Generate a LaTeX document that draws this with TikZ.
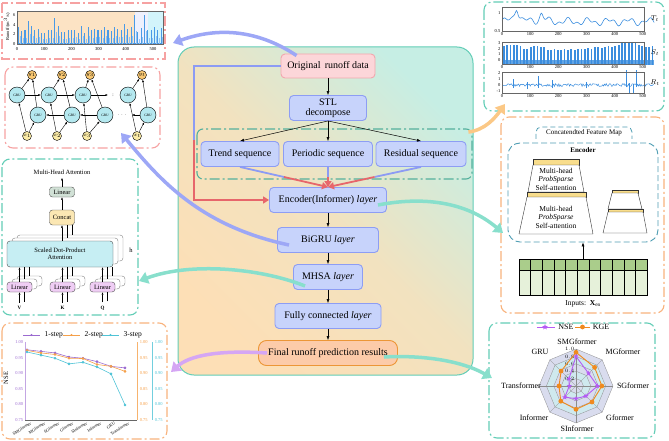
\documentclass[tikz,border=0pt]{standalone}
\usepackage{fontspec}
\setmainfont{Liberation Serif}
\usetikzlibrary{positioning,calc,arrows.meta,shapes.geometric}

\definecolor{layerfill}{HTML}{C7D3FB}
\definecolor{layeredge}{HTML}{8D9DF4}
\definecolor{datafill}{HTML}{FCD6D9}
\definecolor{dataedge}{HTML}{F3A6AE}
\definecolor{resultfill}{HTML}{FCCBA9}
\definecolor{resultedge}{HTML}{EC9637}
\definecolor{panelteal}{HTML}{C6EEE4}
\definecolor{panelorange}{HTML}{FDDFB6}
\definecolor{tealedge}{HTML}{62CDB6}
\definecolor{tealflow}{HTML}{88DFCC}
\definecolor{lavflow}{HTML}{9DA7F6}
\definecolor{lilacflow}{HTML}{D5A6F4}
\definecolor{orangeflow}{HTML}{FBC886}
\definecolor{seqblue}{HTML}{8C9BF4}
\definecolor{seqred}{HTML}{E7666B}
\definecolor{pinkdash}{HTML}{F6A2A2}
\definecolor{orangedash}{HTML}{F8B27C}
\definecolor{plotblue}{HTML}{3B8DDE}
\definecolor{barblue}{HTML}{4A9AE6}
\definecolor{barorange}{HTML}{FCE3C4}
\definecolor{barlav}{HTML}{EEF0FD}
\definecolor{barcyan}{HTML}{D2F4FB}
\definecolor{grucyan}{HTML}{B4E8EF}
\definecolor{gruyellow}{HTML}{F9C872}
\definecolor{xyellow}{HTML}{FBEBA6}
\definecolor{linfill}{HTML}{EFCDF4}
\definecolor{sdpafill}{HTML}{C6EEF3}
\definecolor{concatfill}{HTML}{FBE7B3}
\definecolor{topfill}{HTML}{D1E1D6}
\definecolor{stepone}{HTML}{9B6BD0}
\definecolor{steptwo}{HTML}{F5A04A}
\definecolor{stepthree}{HTML}{4FC3D6}
\definecolor{encedge}{HTML}{4E9DB3}
\definecolor{probyellow}{HTML}{F8DD8C}
\definecolor{gridgreen}{HTML}{AACD8B}
\definecolor{gridlight}{HTML}{E6F1DA}
\definecolor{nsepurple}{HTML}{B45CF5}
\definecolor{kgeorange}{HTML}{F08A1E}
\definecolor{radarring}{HTML}{D9DCEE}
\definecolor{radarinner}{HTML}{CFE9EE}

\begin{document}
\begin{tikzpicture}[x=1pt,y=-1pt,>=Latex,node distance=40pt,on grid,
  layerbox/.style={draw=layeredge,fill=layerfill,line width=0.9pt,rounded corners=4pt,minimum height=25pt,inner sep=2pt,font=\fontsize{10}{11}\selectfont},
  databox/.style={layerbox,draw=dataedge,fill=datafill,minimum height=24pt},
  resultbox/.style={layerbox,draw=resultedge,fill=resultfill,rounded corners=8pt},
  thinarrow/.style={-{Latex[length=4pt,width=3pt]},line width=0.5pt},
  fusein/.style={seqblue,line width=1.8pt},
  fuseout/.style={seqred,line width=1.8pt,-{Triangle[length=6pt,width=7pt]}},
  flowarrow/.style={line width=3.5pt,-{Triangle[length=9pt,width=12pt]}},
  panelline/.style={line width=1.1pt,dash pattern=on 10pt off 3pt on 2pt off 3pt,rounded corners=8pt},
  ticklabel/.style={font=\fontsize{4.5}{5}\selectfont,inner sep=0.6pt},
  axisline/.style={draw=black!60,line width=0.4pt},
  grucell/.style={circle,draw,fill=grucyan,minimum size=16pt,inner sep=0pt,line width=0.4pt,font=\fontsize{3.5}{4}\selectfont},
  ycell/.style={circle,draw,fill=gruyellow,minimum size=9pt,inner sep=0pt,line width=0.4pt,font=\fontsize{3.5}{4}\selectfont},
  xcell/.style={circle,draw,fill=xyellow,minimum size=9pt,inner sep=0pt,line width=0.4pt,font=\fontsize{3.5}{4}\selectfont},
  tinyarrow/.style={-{Latex[length=2.5pt,width=2pt]},line width=0.4pt},
  attnbox/.style={draw=black!70,line width=0.4pt,rounded corners=3pt,inner sep=0pt,font=\fontsize{6.5}{7.5}\selectfont},
  trapbox/.style={draw=black!80,line width=0.4pt,fill=white},
  probbar/.style={draw=black!80,line width=0.4pt,fill=probyellow},
]
\useasboundingbox (0,0) rectangle (669,441);

% central framework
\shadedraw[draw=tealedge,line width=1pt,rounded corners=16pt,top color=panelteal,bottom color=panelorange,middle color=panelorange!80!panelteal,shading angle=-45] (178,47) rectangle (473,375);
\draw[tealedge!80!black!70!tealedge,panelline,rounded corners=6pt] (197,129) rectangle (472,179);

\node[databox,minimum width=94pt] (orig) at (328,66) {Original\, runoff data};
\node[layerbox,minimum width=77pt,align=center,below=42pt of orig] (stl) {STL\\[-1pt]decompose};
\node[layerbox,minimum width=89pt,below=46pt of stl] (per) {Periodic sequence};
\node[layerbox,minimum width=78pt,left=88pt of per] (trend) {Trend sequence};
\node[layerbox,minimum width=90pt,right=93pt of per] (resid) {Residual sequence};
\node[layerbox,minimum width=117pt,below=46pt of per] (enc) {Encoder(Informer) \textit{layer}};
\node[layerbox,minimum width=101pt,below=40pt of enc] (bigru) {BiGRU \textit{layer}};
\node[layerbox,minimum width=69pt,below=37pt of bigru] (mhsa) {MHSA \textit{layer}};
\node[layerbox,minimum width=106pt,below=39pt of mhsa] (fc) {Fully connected \textit{layer}};
\node[resultbox,minimum width=139pt,below=37pt of fc] (final) {Final runoff prediction results};

\draw[thinarrow] (orig) -- (stl);
\foreach \s in {trend,per,resid}
  \draw[thinarrow] (stl.south) -- (\s.north);
\foreach \s in {trend,per,resid} {
  \draw[fusein] (\s.south) -- ($(\s.south)!0.5!(enc.north)$);
  \draw[fuseout] ($(\s.south)!0.5!(enc.north)$) -- (enc.north);
}
\coordinate (bypass) at (194,140);
\draw[fusein] (orig.west) -| (bypass);
\draw[fuseout] (bypass) |- (enc.west);
\draw[thinarrow] (enc) -- (bigru);
\draw[thinarrow] (bigru) -- (mhsa);
\draw[thinarrow] (mhsa) -- (fc);
\draw[thinarrow] (fc) -- (final);

% runoff series
\draw[pinkdash,panelline,rounded corners=0pt] (2,3) rectangle (165,59);
\fill[barorange] (17,11) rectangle (135,44);
\fill[barlav] (135,11) rectangle (148,44);
\fill[barcyan] (148,11) rectangle (163,44);
\begin{scope}[shift={(17,44)},x=0.272pt,y=4.83pt]
  \fill[barblue] (0,0) rectangle (538,0.3);
  \foreach \h [count=\i from 0] in {3.5,2.7,2.8,4.8,3.8,2.9,3.1,2.3,2.3,2.9,2.8,5.3,3.8,2.4,2.4,2.8,2.8,3.0,2.2,3.8,2.3,3.6,2.8,3.2,3.0,2.8,3.5,2.8,2.6,3.5,3.2,3.0,4.1,3.2,3.5,6.0,2.5,3.4,6.1,2.9,2.8,3.6,2.8,3.4} {
    \fill[barblue] ({5+12.2*\i-2},0) rectangle ({5+12.2*\i+2},\h);
    \fill[barblue!60] ({11+12.2*\i-1.5},0) rectangle ({11+12.2*\i+1.5},{0.45*\h});
  }
  \foreach \v in {0,2,4,6}
    \node[ticklabel,anchor=east] at (-3,\v) {\v};
  \foreach \v in {0,100,...,500}
    \node[ticklabel,anchor=north] at (\v,-0.6) {\v};
\end{scope}
\draw[axisline] (17,11) rectangle (163,44);
\node[ticklabel,rotate=90] at (7,27) {Runoff/(m$^3$/s)};

% bidirectional GRU
\draw[pinkdash,panelline] (5,67) rectangle (160,148);
\foreach \n/\fx/\bx/\yx/\xx/\lab in {1/17/38/32/27/1,2/49/72/62/57/2,3/83/105/90/87/3,4/128/148/142/137/t} {
  \node[grucell] (f\n) at (\fx,95) {GRU};
  \node[grucell] (b\n) at (\bx,115) {GRU};
  \node[ycell] (y\n) at (\yx,75) {$y_\lab$};
  \node[xcell] (x\n) at (\xx,136) {$x_\lab$};
  \draw[tinyarrow] (x\n) -- (f\n);
  \draw[tinyarrow] (x\n) -- (b\n);
  \draw[tinyarrow] (f\n) -- (y\n);
  \draw[tinyarrow] (b\n) -- (y\n);
}
\coordinate (fend) at (108,95);
\coordinate (bend) at (132,115);
\draw[tinyarrow] (f1) -- (f2);
\draw[tinyarrow] (f2) -- (f3);
\draw[tinyarrow] (f3) -- (fend);
\draw[tinyarrow] (b3) -- (b2);
\draw[tinyarrow] (b2) -- (b1);
\draw[tinyarrow] (b4) -- (bend);
\node[font=\fontsize{5}{5}\selectfont] (fdots) at (113,95) {:};
\node[font=\fontsize{5}{5}\selectfont] (bdots) at (122,115) {$\cdots$};

% multi-head attention
\draw[tealedge,panelline] (2,159) rectangle (138,315);
\node[font=\fontsize{6.5}{7}\selectfont] (mhatitle) at (62,172) {Multi-Head Attention};
\node[attnbox,fill=topfill,minimum width=25pt,minimum height=10pt] (lintop) at (62,192) {Linear};
\node[attnbox,fill=concatfill,minimum width=25pt,minimum height=15pt] (concat) at (62,217.5) {Concat};
\node[attnbox,fill=white,draw=black!50,minimum width=106pt,minimum height=26pt] at (70,248) {};
\node[attnbox,fill=white,draw=black!50,minimum width=106pt,minimum height=26pt] at (65,251) {};
\node[attnbox,fill=sdpafill,minimum width=106pt,minimum height=26pt,align=center] (sdpa) at (60,254) {Scaled Dot-Product\\Attention};
\node[font=\fontsize{6.5}{7}\selectfont] (hlab) at (131,250) {h};
\foreach \p/\lab in {19.5/V,62.5/K,102.5/Q} {
  \node[attnbox,fill=white,draw=black!50,minimum width=25pt,minimum height=10pt] at (\p+10,281) {};
  \node[attnbox,fill=white,draw=black!50,minimum width=25pt,minimum height=10pt] at (\p+5,284) {};
  \node[attnbox,fill=linfill,minimum width=25pt,minimum height=10pt] (lin\lab) at (\p,287) {Linear};
  \node[font=\bfseries\fontsize{5}{5}\selectfont] (in\lab) at (\p,308) {\lab};
  \draw[tinyarrow] (in\lab) -- (lin\lab);
  \draw[line width=0.4pt] ($(in\lab.north)+(5,-1)$) -- ($(lin\lab.south)+(5,0)$);
  \draw[tinyarrow] (lin\lab.north) -- (lin\lab.north |- sdpa.south);
  \draw[line width=0.4pt] ($(lin\lab.north)+(5,-3)$) -- ($(lin\lab.north |- sdpa.south)+(5,0)$);
  \draw[line width=0.4pt] ($(lin\lab.north)+(10,-6)$) -- ($(lin\lab.north |- sdpa.south)+(10,0)$);
}
\draw[tinyarrow] (sdpa.north -| concat.south) -- (concat.south);
\draw[line width=0.4pt] ($(sdpa.north -| concat.south)+(5,-3)$) -- ($(concat.south)+(5,0)$);
\draw[line width=0.4pt] ($(sdpa.north -| concat.south)+(10,-6)$) -- ($(concat.south)+(10,0)$);
\draw[tinyarrow] (concat) -- (lintop);
\draw[tinyarrow] (lintop) -- (mhatitle);

% accuracy of multi-step prediction
\draw[orangedash,panelline] (2,323) rectangle (167,439);
\draw[stepone!60,line width=0.5pt] (25,342) -- (25,420);
\draw[axisline] (25,420) -- (137,420);
\draw[steptwo!80,line width=0.5pt] (137,342) -- (137,420);
\draw[stepthree!80,line width=0.5pt] (152,342) -- (152,420);
\foreach \v/\t in {342/1.00,357.6/0.95,373.2/0.90,388.8/0.85,404.4/0.80,420/0.75} {
  \node[ticklabel,text=stepone,anchor=east] at (24,\v) {\t};
  \node[ticklabel,text=steptwo,anchor=west] at (139,\v) {\t};
  \node[ticklabel,text=stepthree,anchor=west] at (154,\v) {\t};
}
\node[font=\fontsize{6.5}{7}\selectfont,rotate=90] (nselab) at (6,378) {NSE};
\begin{scope}[shift={(27,654)},x=14pt,y=312pt]
  \draw[stepone,line width=0.6pt] plot[mark=*,mark size=1pt] coordinates {(0,0.975) (1,0.970) (2,0.965) (3,0.952) (4,0.948) (5,0.937) (6,0.922) (7,0.917)};
  \draw[steptwo,line width=0.6pt] plot[mark=*,mark size=1pt] coordinates {(0,0.973) (1,0.965) (2,0.960) (3,0.948) (4,0.947) (5,0.928) (6,0.922) (7,0.906)};
  \draw[stepthree,line width=0.6pt] plot[mark=*,mark size=1pt] coordinates {(0,0.968) (1,0.958) (2,0.948) (3,0.930) (4,0.935) (5,0.920) (6,0.898) (7,0.798)};
\end{scope}
\foreach \m [count=\i from 0] in {SMGformer,MGformer,SGformer,Gformer,SInformer,Informer,GRU,Transformer}
  \node[inner sep=0.3pt,font=\fontsize{4.3}{4.5}\selectfont,rotate=33,anchor=north east] at ({30+14*\i},421) {\m};
\foreach \c/\x/\lab in {stepone/23/1-step,steptwo/63/2-step,stepthree/102/3-step} {
  \draw[\c,line width=0.7pt] (\x,335) -- (\x+17,335);
  \fill[\c] (\x+8.5,335) circle (1.2);
  \node[font=\fontsize{7.5}{8}\selectfont,anchor=west] at (\x+18,335) {\lab};
}

% STL components
\draw[tealedge,panelline] (484,2) rectangle (664,111);
\begin{scope}[shift={(502,49)},x=0.2817pt,y=36pt]
  \draw[plotblue,line width=0.6pt] plot[domain=0:540,samples=160,smooth] (\x,{0.76+0.07*sin(5*\x)+0.05*sin(11*\x+30)+0.42/(1+((\x-52)/8)^2)+0.22/(1+((\x-140)/8)^2)});
  \foreach \v in {0.5,1}
    \node[ticklabel,anchor=east] at (-3,\v) {\v};
\end{scope}
\begin{scope}[shift={(502,60)},x=0.2817pt,y=5.7pt]
  \fill[plotblue!80] (2,-0.8) rectangle (538,0);
  \foreach \h [count=\i from 0] in {2.4,2.6,2.6,2.6,2.6,2.5,2.0,1.9,2.2,2.4,2.5,2.3,2.2,1.8,1.8,1.9,1.8,1.8,1.9,1.8,1.9,1.8,1.9,2.0,2.0,2.1,2.0,2.2,2.2,2.1,2.2,2.4,2.3,2.4,2.6,3.0,3.1,3.0,3.1,3.0,2.6,2.4,2.3,2.3,2.4}
    \draw[plotblue,line width=1.8pt] ({6+12*\i},-0.8) -- ({6+12*\i},\h);
  \foreach \v in {0,1,2,3}
    \node[ticklabel,anchor=east] at (-3,\v) {\v};
\end{scope}
\begin{scope}[shift={(502,85)},x=0.2817pt,y=5.8pt]
  \pgfmathsetseed{11}
  \draw[plotblue,line width=0.5pt] plot[domain=2:538,samples=170] (\x,{0.25*rand});
  \draw[plotblue,line width=0.6pt] (40,-0.6) -- (40,1.0) (130,-0.5) -- (130,1.6) (180,-0.6) -- (180,0.9) (440,-0.4) -- (440,2.6) (452,0.3) -- (452,-1.5) (466,0.2) -- (466,-1.3) (476,-0.3) -- (476,2.6) (90,-0.7) -- (90,0.6) (300,-0.6) -- (300,0.6);
  \foreach \v in {-1,0,1,2}
    \node[ticklabel,anchor=east] at (-3,\v) {\v};
\end{scope}
\foreach \yt/\yb/\lab in {7/31/T_t,42/64/S_t,72/93/R_t} {
  \draw[axisline] (502,\yt) rectangle (644,\yb);
  \foreach \v in {0,100,...,500}
    \node[ticklabel,anchor=north] at ({502+0.2817*\v},\yb+1) {\v};
  \node[font=\fontsize{7}{7}\selectfont] at (655,{(\yt+\yb)/2}) {$\lab$};
}

% Informer encoder
\draw[orangedash,panelline] (501,117) rectangle (664,313);
\draw[encedge,line width=0.8pt,dash pattern=on 5pt off 3pt,rounded corners=5pt] (536,139) |- (632,127) -- (632,139);
\node[font=\fontsize{7}{7}\selectfont] (cfm) at (584,133) {Concatendted Feature Map};
\node[draw=encedge,line width=0.9pt,dash pattern=on 6pt off 3pt,rounded corners=12pt,minimum width=150pt,minimum height=99pt] (encoder) at (583,192.5) {};
\node[font=\bfseries\fontsize{7}{7}\selectfont] (enclab) at (583,150) {Encoder};
\draw[probbar] (533,159) rectangle (579,165);
\draw[trapbox] (533,165) -- (579,165) -- (584,192) -- (528,192) -- cycle;
\draw[probbar] (527,192) rectangle (586,197);
\draw[trapbox] (527,197) -- (586,197) -- (593,234) -- (519,234) -- cycle;
\node[font=\fontsize{7.5}{8.5}\selectfont,align=center] (attone) at (556,179) {Multi-head\\\textit{ProbSparse}\\Self-attention};
\node[font=\fontsize{7.5}{8.5}\selectfont,align=center] (atttwo) at (556,217) {Multi-head\\\textit{ProbSparse}\\Self-attention};
\draw[probbar] (612,190) rectangle (638,193);
\draw[trapbox] (612,193) -- (638,193) -- (642,209) -- (608,209) -- cycle;
\draw[probbar] (608,209) rectangle (643,212);
\draw[trapbox] (608,212) -- (643,212) -- (647,233) -- (603,233) -- cycle;
\node[minimum width=128pt,minimum height=36pt,inner sep=0pt] (inputs) at (583,277) {};
\foreach \i in {0,...,10} {
  \draw[fill=gridgreen,line width=0.4pt] ({519+11.636*\i},259) rectangle +(11.636,11);
  \draw[fill=gridlight,line width=0.4pt] ({519+11.636*\i},270) rectangle +(11.636,25);
}
\draw[thinarrow] (inputs.north) -- (encoder.south);
\node[font=\fontsize{7.5}{8}\selectfont] (inlab) at (583,304) {Inputs:\ \ $\mathbf{X}_{\mathrm{en}}$};

% radar comparison
\draw[tealedge,panelline] (489,323) rectangle (655,438);
\begin{scope}[shift={(576,386)},y=1pt]
  \foreach \r/\c in {37/radarring,29.6/radarinner,22.2/radarring,14.8/radarinner,7.4/radarring}
    \filldraw[fill=\c,draw=black!45,line width=0.3pt] (0:\r) \foreach \a in {45,90,...,315} { -- (\a:\r) } -- cycle;
  \foreach \a in {0,45,...,315}
    \draw[black!45,line width=0.3pt] (0,0) -- (\a:37);
  \foreach \k in {1,...,5}
    \node[font=\fontsize{3.5}{4}\selectfont,anchor=east,inner sep=0.5pt] at (-1,{7.4*\k}) {\pgfmathparse{0.2*\k}\pgfmathprintnumber[fixed,precision=1,fixed zerofill]{\pgfmathresult}};
  \draw[kgeorange,line width=0.9pt] (90:33.7) -- (45:26.3) -- (0:25.9) -- (-45:22.6) -- (-90:23.3) -- (-135:21.5) -- (180:17.0) -- (135:21.1) -- cycle;
  \draw[nsepurple,line width=0.9pt] (90:29.6) -- (45:17.8) -- (0:21.5) -- (-45:14.1) -- (-90:12.6) -- (-135:15.9) -- (180:6.7) -- (135:10.0) -- cycle;
  \foreach \a/\r in {90/33.7,45/26.3,0/25.9,-45/22.6,-90/23.3,-135/21.5,180/17.0,135/21.1}
    \fill[kgeorange] (\a:\r) circle (2.4);
  \foreach \a/\r in {90/29.6,45/17.8,0/21.5,-45/14.1,-90/12.6,-135/15.9,180/6.7,135/10.0}
    \node[star,star points=5,star point ratio=2.3,fill=nsepurple,inner sep=0pt,minimum size=5.5pt] at (\a:\r) {};
\end{scope}
\foreach \x/\y/\m in {577/342/SMGformer,623/352/MGformer,633/386/SGformer,620/418/Gformer,577/429/SInformer,534/418/Informer,521/386/Transformer,540/352/GRU}
  \node[font=\fontsize{8}{8}\selectfont] at (\x,\y) {\m};
\draw[nsepurple,line width=0.9pt] (537,327) -- (555,327);
\node[star,star points=5,star point ratio=2.3,fill=nsepurple,inner sep=0pt,minimum size=6pt] (nsemark) at (545,327) {};
\node[font=\fontsize{8}{8}\selectfont] (nsekey) at (566,327) {NSE};
\draw[kgeorange,line width=0.9pt] (575,327) -- (590,327);
\fill[kgeorange] (582.5,327) circle (2.4);
\node[font=\fontsize{8}{8}\selectfont] (kgekey) at (601,327) {KGE};

% links between framework and panels
\coordinate (runoffin) at (173,43);
\coordinate (gruin) at (121,133);
\coordinate (attnin) at (139,281);
\coordinate (informerin) at (503,233);
\coordinate (stlin) at (505,104);
\coordinate (radarin) at (492,378);
\coordinate (stepin) at (171,372);
\draw[flowarrow,lavflow] ($(orig.north west)+(16,2)$) .. controls (255,28) and (215,28) .. (runoffin);
\draw[flowarrow,lavflow] ($(bigru.west)+(12,5)$) .. controls (200,226) and (160,180) .. (gruin);
\draw[flowarrow,tealflow] ($(mhsa.west)+(12,9)$) .. controls (260,268) and (190,262) .. (attnin);
\draw[flowarrow,tealflow] ($(enc.east)+(-9,5)$) .. controls (430,195) and (470,205) .. (informerin);
\draw[flowarrow,orangeflow] ($(resid.north east)+(2,-9)$) .. controls (485,130) and (495,118) .. (stlin);
\draw[flowarrow,tealflow] ($(final.east)+(-14,4)$) .. controls (420,355) and (460,360) .. (radarin);
\draw[flowarrow,lilacflow] ($(final.west)+(9,0)$) .. controls (220,350) and (190,355) .. (stepin);
\end{tikzpicture}
\end{document}
